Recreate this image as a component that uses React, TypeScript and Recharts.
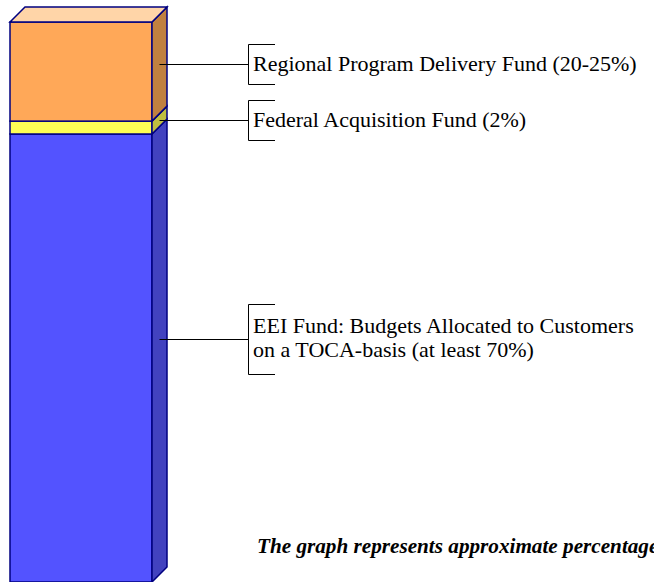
import { Bar, BarChart, XAxis, YAxis } from "recharts";

const categories = ["Fund allocation"];
const eeiShare = [80];
const federalShare = [2.3];
const regionalShare = [17.7];

const regionalLabel = ["Regional Program Delivery Fund (20-25%)"];
const federalLabel = ["Federal Acquisition Fund (2%)"];
const eeiLabel = ["EEI Fund: Budgets Allocated to Customers", "on a TOCA-basis (at least 70%)"];
const footNote = "The graph represents approximate percentages";

const data = categories.map((name, i) => ({
  name,
  eei: eeiShare[i],
  federal: federalShare[i],
  regional: regionalShare[i],
}));

const DX = 15;
const DY = 15;
const OUTLINE = "#000080";
const FOOT_FONT = "Times New Roman, Liberation Serif, serif";

function make3D(side: string, top: string | null) {
  // eslint-disable-next-line @typescript-eslint/no-explicit-any
  return (props: any) => {
    const { x, y, width: w, height: h, fill } = props;
    return (
      <g>
        <rect x={x} y={y} width={w} height={h} fill={fill} stroke={OUTLINE} strokeWidth={1.5} />
        <polygon
          points={`${x + w},${y} ${x + w + DX},${y - DY} ${x + w + DX},${y + h - DY} ${x + w},${y + h}`}
          fill={side}
          stroke={OUTLINE}
          strokeWidth={1.5}
        />
        {top && (
          <polygon
            points={`${x},${y} ${x + DX},${y - DY} ${x + w + DX},${y - DY} ${x + w},${y}`}
            fill={top}
            stroke={OUTLINE}
            strokeWidth={1.5}
          />
        )}
      </g>
    );
  };
}

// leader line from the side face to a bracket with the text
function callout(lines: string[], frac: number) {
  // eslint-disable-next-line @typescript-eslint/no-explicit-any
  return (p: any) => {
    const vb = p.viewBox ?? p;
    const x = Number(vb.x);
    const y = Number(vb.y);
    const w = Number(vb.width);
    const h = Number(vb.height);
    const ly = Math.round(y + h * frac - DY / 2) + 0.5;
    const sx = x + w + DX / 2;
    const bx = 248.5;
    const half = lines.length > 1 ? 35 : 20;
    const firstBase = lines.length > 1 ? ly - 7 : ly + 6;
    return (
      <g>
        <line x1={sx} y1={ly} x2={bx} y2={ly} stroke="#000" strokeWidth={1} />
        <polyline
          points={`275,${ly - half} ${bx},${ly - half} ${bx},${ly + half} 275,${ly + half}`}
          fill="none"
          stroke="#000"
          strokeWidth={1}
        />
        {lines.map((t, i) => (
          <text key={i} x={253} y={firstBase + i * 24} fontFamily="Times New Roman" fontSize={22} fill="#000">
            {t}
          </text>
        ))}
      </g>
    );
  };
}

export default function App() {
  return (
    <div
      style={{
        position: "absolute",
        left: 0,
        top: 0,
        width: 654,
        height: 582,
        overflow: "hidden",
      }}
    >
      <BarChart
        width={654}
        height={582}
        data={data}
        margin={{ top: 22, right: 502, left: 10, bottom: 0 }}
        barCategoryGap="0%"
        barGap={0}
      >
        <XAxis dataKey="name" hide />
        <YAxis hide domain={[0, 100]} />
        <Bar
          dataKey="eei"
          stackId="a"
          fill="#5353FF"
          shape={make3D("#4242BF", null)}
          label={callout(eeiLabel, 0.474)}
          isAnimationActive={false}
        />
        <Bar
          dataKey="federal"
          stackId="a"
          fill="#FFFF55"
          shape={make3D("#BFBF40", null)}
          label={callout(federalLabel, 0.5)}
          isAnimationActive={false}
        />
        <Bar
          dataKey="regional"
          stackId="a"
          fill="#FFA858"
          shape={make3D("#C08040", "#FFD5A8")}
          label={callout(regionalLabel, 0.5)}
          isAnimationActive={false}
        />
      </BarChart>
      <div
        style={{
          position: "absolute",
          left: 257,
          top: 536,
          fontFamily: FOOT_FONT,
          fontSize: 21.2,
          fontWeight: "bold",
          fontStyle: "italic",
          whiteSpace: "nowrap",
          lineHeight: "21px",
        }}
      >
        {footNote}
      </div>
    </div>
  );
}
